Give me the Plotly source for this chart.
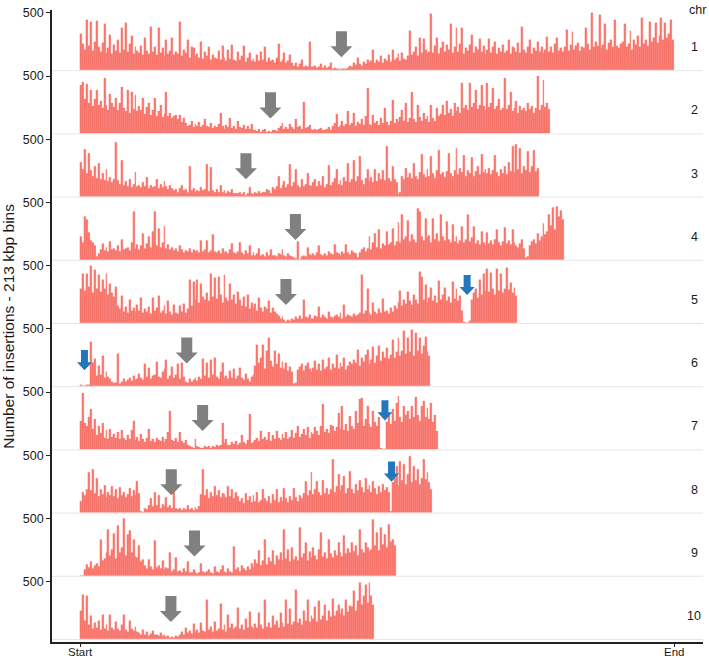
import plotly.graph_objects as go
from plotly.subplots import make_subplots

# ---------------- data (1 Mb resolution) ----------------
BIN_MB = 1.0
CHR_NAMES = ["1", "2", "3", "4", "5", "6", "7", "8", "9", "10"]

CHR1 = [320, 230, 180, 440, 210, 420, 170, 250, 430, 200,
        160, 240, 400, 150, 190, 310, 140, 220, 170, 260,
        150, 370, 180, 410, 160, 230, 300, 140, 200, 170,
        150, 210, 130, 280, 170, 140, 380, 160, 200, 130,
        370, 150, 190, 120, 260, 140, 170, 280, 130, 160,
        140, 420, 120, 180, 150, 260, 110, 200, 190, 120,
        140, 110, 250, 100, 160, 120, 200, 90, 130, 110,
        100, 170, 90, 210, 110, 80, 180, 100, 220, 90,
        80, 160, 90, 120, 210, 70, 110, 150, 80, 100,
        70, 130, 80, 160, 90, 200, 70, 110, 80, 90,
        60, 110, 225, 70, 90, 150, 60, 80, 130, 60,
        40, 60, 30, 50, 90, 30, 40, 25, 250, 30,
        25, 40, 20, 30, 50, 20, 35, 20, 30, 60,
        15, 20, 10, 15, 5, 10, 8, 12, 20, 40,
        30, 60, 45, 110, 50, 40, 70, 55, 90, 60,
        80, 175, 60, 90, 70, 120, 65, 100, 80, 130,
        70, 180, 90, 110, 140, 80, 150, 100, 90, 120,
        340, 130, 160, 200, 120, 280, 150, 270, 180, 140,
        160, 490, 150, 210, 280, 140, 190, 250, 160, 220,
        180, 400, 150, 200, 370, 160, 230, 370, 140, 190,
        170, 220, 310, 150, 200, 180, 270, 160, 210, 140,
        180, 270, 150, 200, 250, 140, 190, 160, 220, 150,
        170, 260, 140, 200, 190, 160, 240, 150, 377, 180,
        150, 200, 260, 140, 190, 170, 250, 160, 200, 150,
        180, 290, 160, 200, 150, 230, 280, 170, 190, 160,
        200, 350, 170, 220, 330, 180, 210, 240, 170, 200,
        190, 370, 230, 180, 500, 200, 250, 210, 485, 190,
        220, 400, 180, 240, 260, 200, 440, 210, 190, 230,
        250, 400, 200, 230, 340, 180, 260, 220, 300, 200,
        455, 230, 260, 210, 420, 250, 280, 410, 240, 300,
        455, 260, 410, 280, 320, 440, 260]

CHR2 = [420, 450, 300, 430, 260, 380, 240, 300, 377, 250,
        280, 220, 480, 250, 200, 340, 260, 230, 310, 200,
        260, 406, 220, 190, 380, 180, 360, 210, 330, 190,
        240, 200, 310, 170, 230, 260, 160, 200, 310, 150,
        190, 250, 140, 170, 360, 150, 180, 130, 150, 160,
        120, 160, 100, 130, 90, 60, 70, 110, 50, 80,
        60, 100, 50, 70, 120, 60, 50, 90, 45, 60,
        50, 80, 175, 60, 40, 70, 55, 130, 45, 60,
        40, 110, 50, 45, 70, 35, 60, 40, 80, 30,
        30, 20, 40, 15, 25, 35, 10, 20, 15, 25,
        30, 20, 45, 60, 90, 40, 55, 35, 80, 50,
        40, 120, 50, 60, 40, 275, 45, 55, 70, 35,
        30, 40, 25, 35, 45, 30, 25, 40, 50, 30,
        60, 90, 170, 50, 70, 110, 60, 80, 190, 70,
        90, 175, 60, 100, 80, 120, 70, 150, 397, 80,
        70, 160, 90, 110, 70, 130, 85, 220, 100, 75,
        110, 290, 90, 120, 100, 140, 200, 110, 260, 100,
        130, 360, 120, 100, 250, 140, 110, 180, 120, 150,
        100, 250, 130, 110, 220, 150, 170, 250, 160, 280,
        180, 210, 150, 260, 190, 230, 180, 435, 220, 250,
        200, 435, 230, 260, 380, 210, 250, 420, 240, 200,
        435, 230, 260, 390, 210, 240, 300, 200, 220, 480,
        210, 250, 360, 190, 220, 280, 180, 240, 200, 220,
        190, 260, 210, 240, 180, 220, 500, 200, 250, 465,
        230, 260, 210]

CHR3 = [300, 240, 410, 200, 380, 230, 180, 260, 160, 290,
        150, 200, 140, 240, 130, 170, 120, 150, 475, 140,
        110, 320, 100, 130, 90, 150, 80, 110, 210, 90,
        100, 80, 120, 90, 170, 70, 100, 80, 90, 150,
        70, 110, 80, 130, 90, 60, 100, 70, 50, 60,
        40, 70, 100, 50, 60, 40, 260, 50, 70, 40,
        55, 45, 80, 50, 60, 280, 45, 255, 50, 40,
        60, 35, 100, 40, 50, 30, 45, 35, 60, 30,
        25, 30, 40, 20, 35, 15, 25, 80, 30, 20,
        35, 25, 45, 30, 40, 35, 60, 50, 30, 80,
        60, 90, 180, 70, 100, 130, 80, 110, 280, 90,
        120, 240, 100, 80, 150, 90, 110, 200, 100, 90,
        120, 150, 90, 130, 100, 180, 80, 110, 270, 100,
        120, 160, 240, 110, 140, 100, 170, 130, 290, 120,
        150, 320, 130, 180, 350, 140, 110, 160, 240, 130,
        170, 120, 240, 130, 200, 150, 230, 140, 440, 160,
        130, 260, 150, 120, 20, 40, 180, 150, 250, 170,
        200, 160, 290, 180, 150, 210, 370, 190, 170, 240,
        180, 350, 200, 160, 230, 400, 190, 210, 170, 220,
        380, 200, 180, 230, 420, 190, 250, 210, 360, 180,
        230, 200, 340, 180, 220, 260, 190, 370, 210, 240,
        200, 250, 190, 230, 360, 210, 180, 240, 200, 260,
        190, 300, 220, 440, 210, 455, 240, 420, 200, 260,
        230, 390, 210, 260, 400, 220, 250]

CHR4 = [200, 150, 380, 350, 240, 170, 150, 120, 30, 50,
        90, 140, 80, 110, 70, 160, 90, 100, 80, 120,
        70, 180, 90, 100, 110, 80, 150, 423, 100, 130,
        90, 120, 230, 100, 140, 200, 110, 250, 423, 120,
        270, 110, 150, 293, 100, 130, 90, 110, 80, 100,
        70, 120, 90, 60, 80, 70, 100, 60, 90, 70,
        80, 60, 170, 70, 90, 170, 60, 80, 220, 70,
        60, 80, 50, 100, 60, 70, 50, 90, 140, 60,
        50, 70, 150, 60, 45, 80, 55, 120, 40, 60,
        40, 50, 100, 35, 45, 30, 60, 40, 90, 35,
        40, 30, 50, 45, 90, 35, 30, 55, 40, 30,
        20, 10, 162, 5, 25, 40, 30, 110, 45, 35,
        50, 40, 60, 120, 45, 35, 55, 40, 70, 50,
        45, 130, 60, 50, 40, 70, 55, 130, 60, 45,
        80, 60, 50, 20, 60, 90, 110, 70, 100, 200,
        90, 150, 230, 110, 260, 100, 140, 120, 250, 130,
        150, 270, 120, 160, 322, 150, 394, 180, 200, 340,
        160, 220, 180, 150, 444, 420, 200, 170, 360, 190,
        210, 150, 360, 180, 230, 160, 390, 200, 170, 330,
        180, 150, 310, 160, 200, 140, 170, 290, 150, 180,
        394, 160, 190, 290, 140, 170, 130, 250, 150, 120,
        240, 140, 170, 130, 180, 260, 150, 120, 160, 280,
        140, 170, 130, 260, 150, 120, 110, 140, 180, 100,
        20, 30, 120, 160, 180, 140, 230, 170, 200, 320,
        220, 250, 394, 300, 452, 260, 460, 380, 430, 350]

CHR5 = [300, 430, 280, 432, 320, 500, 260, 460, 300, 420,
        270, 380, 300, 430, 250, 340, 260, 230, 320, 150,
        120, 240, 100, 140, 90, 200, 110, 130, 95, 160,
        110, 220, 90, 120, 100, 140, 80, 220, 110, 130,
        240, 90, 110, 150, 80, 190, 100, 70, 160, 90,
        80, 150, 100, 170, 90, 120, 375, 150, 360, 200,
        375, 180, 340, 230, 200, 260, 190, 432, 230, 390,
        210, 400, 250, 180, 418, 220, 190, 340, 200, 250,
        170, 270, 200, 150, 230, 140, 250, 120, 180, 130,
        170, 110, 220, 130, 100, 140, 120, 190, 90, 130,
        100, 80, 60, 40, 50, 25, 15, 30, 20, 40,
        30, 50, 35, 60, 40, 200, 50, 45, 70, 35,
        40, 60, 50, 140, 45, 70, 55, 40, 100, 50,
        45, 60, 70, 50, 90, 40, 160, 55, 70, 60,
        50, 80, 65, 70, 90, 420, 80, 110, 300, 90,
        70, 180, 100, 80, 120, 90, 210, 100, 110, 80,
        130, 100, 150, 120, 180, 280, 150, 200, 170, 270,
        190, 160, 250, 200, 170, 446, 400, 200, 330, 180,
        220, 310, 190, 240, 180, 370, 200, 250, 310, 190,
        230, 180, 360, 210, 300, 190, 240, 110, 10, 0,
        5, 20, 200, 260, 300, 220, 380, 250, 430, 280,
        475, 270, 440, 300, 250, 475, 280, 430, 260, 300,
        480, 290, 350, 260, 310, 240]

CHR6 = [10, 5, 0, 8, 15, 383, 200, 240, 90, 180,
        100, 260, 70, 120, 80, 60, 35, 25, 30, 284,
        20, 40, 60, 35, 50, 70, 45, 90, 55, 60,
        110, 70, 50, 190, 80, 160, 60, 90, 100, 210,
        80, 70, 120, 150, 232, 60, 90, 170, 70, 100,
        190, 60, 200, 80, 40, 25, 60, 35, 50, 70,
        45, 80, 60, 240, 90, 200, 70, 230, 100, 250,
        80, 60, 120, 200, 70, 90, 60, 130, 75, 150,
        60, 90, 160, 70, 50, 110, 60, 40, 80, 100,
        180, 363, 200, 250, 363, 150, 310, 420, 220, 170,
        310, 190, 280, 160, 210, 150, 200, 130, 170, 120,
        20, 30, 140, 170, 190, 130, 180, 200, 150, 120,
        160, 220, 140, 190, 130, 230, 150, 170, 250, 140,
        190, 160, 270, 150, 200, 170, 250, 140, 180, 210,
        190, 230, 200, 320, 180, 250, 210, 270, 320, 190,
        230, 340, 200, 260, 350, 220, 300, 250, 330, 240,
        270, 406, 250, 300, 420, 260, 310, 478, 280, 420,
        300, 487, 260, 460, 310, 420, 280, 350, 430, 300,
        260]

CHR7 = [250, 494, 230, 200, 280, 354, 180, 260, 120, 200,
        140, 230, 100, 170, 90, 180, 110, 130, 100, 150,
        90, 170, 100, 80, 120, 90, 170, 247, 80, 110,
        70, 130, 90, 60, 100, 180, 70, 90, 60, 100,
        80, 70, 110, 60, 90, 150, 334, 80, 70, 100,
        60, 150, 70, 50, 80, 40, 30, 20, 15, 90,
        25, 20, 10, 15, 30, 20, 25, 15, 30, 20,
        35, 25, 40, 232, 50, 90, 40, 35, 60, 45,
        70, 40, 50, 120, 60, 45, 80, 305, 50, 60,
        80, 100, 70, 160, 90, 110, 80, 150, 70, 120,
        90, 160, 100, 80, 130, 100, 150, 90, 110, 170,
        100, 140, 200, 110, 130, 180, 120, 190, 100, 150,
        130, 190, 160, 120, 200, 392, 150, 180, 140, 210,
        200, 160, 190, 320, 180, 377, 170, 220, 160, 290,
        200, 180, 330, 230, 435, 450, 200, 260, 380, 220,
        190, 330, 240, 200, 280, 10, 0, 5, 240, 300,
        220, 350, 250, 400, 465, 280, 240, 380, 300, 330,
        260, 380, 280, 458, 300, 250, 380, 420, 280, 360,
        260, 400, 240, 300, 160]

CHR8 = [100, 180, 150, 200, 348, 190, 377, 170, 300, 140,
        200, 160, 240, 130, 180, 150, 230, 140, 200, 120,
        220, 150, 180, 130, 160, 210, 140, 190, 150, 270,
        170, 10, 5, 40, 30, 60, 120, 50, 180, 60,
        150, 40, 70, 50, 130, 45, 60, 35, 334, 40,
        25, 35, 20, 40, 30, 60, 25, 35, 20, 45,
        30, 50, 160, 377, 150, 200, 120, 180, 140, 230,
        150, 190, 130, 170, 160, 130, 230, 140, 200, 120,
        180, 140, 100, 120, 80, 170, 110, 140, 90, 150,
        100, 180, 90, 110, 200, 120, 100, 140, 80, 160,
        110, 200, 90, 130, 100, 210, 120, 90, 140, 110,
        210, 130, 100, 150, 120, 170, 270, 150, 190, 348,
        160, 200, 270, 180, 150, 280, 170, 210, 160, 200,
        464, 180, 230, 330, 190, 240, 320, 170, 210, 360,
        200, 170, 250, 190, 280, 220, 180, 300, 200, 240,
        180, 270, 210, 160, 230, 180, 250, 190, 220, 180,
        10, 260, 300, 400, 240, 450, 280, 420, 250, 330,
        493, 260, 400, 280, 380, 250, 300, 464, 290, 350,
        260, 200]

CHR9 = [0, 0, 50, 100, 70, 120, 60, 90, 110, 80,
        320, 130, 150, 200, 406, 180, 230, 370, 150, 440,
        200, 250, 500, 180, 360, 392, 200, 320, 170, 160,
        260, 120, 140, 90, 60, 140, 80, 50, 305, 70,
        90, 60, 130, 50, 75, 60, 200, 40, 50, 160,
        35, 45, 30, 60, 40, 120, 30, 25, 50, 35,
        20, 30, 110, 40, 25, 35, 50, 30, 20, 80,
        40, 30, 50, 90, 35, 25, 60, 40, 30, 255,
        50, 70, 40, 90, 60, 45, 80, 50, 110, 70,
        140, 110, 220, 90, 130, 320, 100, 160, 120, 220,
        100, 180, 140, 200, 130, 406, 150, 230, 120, 250,
        140, 170, 130, 420, 160, 190, 290, 130, 210, 160,
        250, 180, 140, 230, 380, 170, 200, 150, 320, 190,
        160, 220, 180, 290, 200, 170, 350, 190, 240, 200,
        290, 210, 260, 180, 400, 230, 200, 290, 250, 210,
        230, 487, 260, 380, 220, 420, 270, 360, 250, 450,
        300, 320, 260]

CHR10 = [250, 385, 160, 380, 120, 200, 90, 140, 100, 160,
         80, 210, 90, 120, 70, 210, 100, 80, 150, 90,
         70, 120, 210, 80, 60, 160, 90, 70, 110, 60,
         50, 40, 80, 35, 60, 30, 45, 70, 35, 40,
         30, 50, 25, 35, 20, 30, 15, 20, 10, 25,
         20, 35, 60, 40, 100, 50, 70, 45, 130, 60,
         80, 50, 140, 70, 60, 340, 80, 110, 60, 150,
         70, 90, 310, 80, 120, 60, 210, 100, 130, 90,
         110, 270, 90, 120, 80, 180, 100, 240, 110, 90,
         130, 100, 230, 120, 90, 340, 110, 140, 100, 200,
         120, 160, 100, 230, 140, 110, 340, 130, 260, 120,
         150, 430, 140, 180, 120, 250, 160, 340, 150, 200,
         180, 280, 150, 330, 170, 200, 300, 160, 250, 190,
         350, 200, 250, 300, 220, 260, 200, 340, 240, 290,
         280, 420, 250, 330, 490, 300, 380, 470, 320, 490,
         380, 300]

ALL_CHR = [CHR1, CHR2, CHR3, CHR4, CHR5, CHR6, CHR7, CHR8, CHR9, CHR10]

# centromere (gray) arrows: position (Mb) and tip height (insertions)
CENTROMERE_MB = [135, 98.3, 85.6, 111.2, 106.3, 55, 63.2, 47, 59, 46.8]
CENTROMERE_TIP = [113, 131, 151, 172, 157, 198, 160, 151, 168, 148]
# blue arrows: chromosome, position (Mb), tip height
BLUE_CHR = [5, 6, 7, 8]
BLUE_MB = [200, 2.1, 157.5, 160.9]
BLUE_TIP = [244, 140, 253, 270]

X_TICK_VALS = [0, 307]
X_TICK_TEXT = ["Start", "End"]
Y_TICK_VALS = [500]
Y_TICK_TEXT = ["500"]
Y_TITLE = "Number of insertions - 213 kbp bins"

# ---------------- style ----------------
BAR_COLOR = "#F8766D"
GRAY = "#808080"
BLUE = "#2176bd"
AXIS_COLOR = "#222222"
TEXT_COLOR = "#1a1a1a"
FONT = "Liberation Sans, Arial, sans-serif"
X_RANGE = [-14.7, 322]
Y_RANGE = [-26, 525]

# arrow geometry (data units)
G_HEAD_W, G_STEM_W, G_H, G_HEAD_H = 11.4, 5.7, 227, 96
B_HEAD_W, B_STEM_W, B_H, B_HEAD_H = 7.8, 3.6, 175, 70

N = len(ALL_CHR)
fig = make_subplots(rows=N, cols=1, shared_xaxes=True, vertical_spacing=0)

for i, vals in enumerate(ALL_CHR):
    xs = [(j + 0.5) * BIN_MB for j in range(len(vals))]
    fig.add_trace(go.Bar(x=xs, y=vals, width=BIN_MB,
                         marker=dict(color=BAR_COLOR, line=dict(width=0.25, color=BAR_COLOR)),
                         showlegend=False, hoverinfo="skip"),
                  row=i + 1, col=1)


def arrow_path(xc, tip, head_w, stem_w, h, head_h):
    top = tip + h
    hb = tip + head_h
    return (f"M {xc - stem_w/2},{top} L {xc + stem_w/2},{top} L {xc + stem_w/2},{hb} "
            f"L {xc + head_w/2},{hb} L {xc},{tip} L {xc - head_w/2},{hb} "
            f"L {xc - stem_w/2},{hb} Z")


shapes = []
annotations = []
for i in range(N):
    n = i + 1
    xr = "x" if n == 1 else f"x{n}"
    yr = "y" if n == 1 else f"y{n}"
    shapes.append(dict(type="line", xref="paper", x0=0, x1=1, yref=yr, y0=-4, y1=-4,
                       line=dict(color="#e6e6e6", width=1), layer="below"))
    shapes.append(dict(type="path", xref=xr, yref=yr,
                       path=arrow_path(CENTROMERE_MB[i], CENTROMERE_TIP[i],
                                       G_HEAD_W, G_STEM_W, G_H, G_HEAD_H),
                       fillcolor=GRAY, line=dict(width=0)))
    annotations.append(dict(xref=xr, yref=yr, x=317.5, y=200, text=CHR_NAMES[i],
                            showarrow=False, xanchor="center", yanchor="middle",
                            font=dict(size=12.5, color=TEXT_COLOR, family=FONT)))

for c, xm, tip in zip(BLUE_CHR, BLUE_MB, BLUE_TIP):
    xr = "x" if c == 1 else f"x{c}"
    yr = "y" if c == 1 else f"y{c}"
    shapes.append(dict(type="path", xref=xr, yref=yr,
                       path=arrow_path(xm, tip, B_HEAD_W, B_STEM_W, B_H, B_HEAD_H),
                       fillcolor=BLUE, line=dict(width=0)))

# bottom tick labels (Start / End), placed just under the axis ticks, kept inside the page
xr_bottom = f"x{N}"
for xv, tx in zip(X_TICK_VALS, X_TICK_TEXT):
    annotations.append(dict(xref=xr_bottom, yref="paper", x=xv, y=0, yshift=-16.5,
                            text=tx, showarrow=False, xanchor="center", yanchor="bottom",
                            borderpad=0,
                            font=dict(size=11.5, color=TEXT_COLOR, family=FONT)))

annotations.append(dict(xref="paper", yref="paper", x=0.992, y=1.0, text="chr",
                        showarrow=False, xanchor="center", yanchor="middle",
                        font=dict(size=12.5, color=TEXT_COLOR, family=FONT)))
annotations.append(dict(xref="paper", yref="paper", x=-0.068, y=0.5, text=Y_TITLE,
                        textangle=-90, showarrow=False, xanchor="center", yanchor="middle",
                        font=dict(size=15.5, color=TEXT_COLOR, family=FONT)))

fig.update_layout(width=709, height=658, bargap=0,
                  margin=dict(l=52, r=6, t=10, b=16, autoexpand=False),
                  plot_bgcolor="white", paper_bgcolor="white",
                  font=dict(family=FONT, size=12.5, color=TEXT_COLOR),
                  shapes=shapes, annotations=annotations)

fig.update_xaxes(range=X_RANGE, showgrid=False, zeroline=False, automargin=False,
                 showticklabels=False, ticks="", showline=False)
fig.update_xaxes(row=N, col=1, showticklabels=False, tickvals=X_TICK_VALS,
                 ticks="outside", ticklen=3, tickwidth=1.2,
                 tickcolor=AXIS_COLOR, showline=True, linecolor=AXIS_COLOR, linewidth=1.6)
fig.update_yaxes(range=Y_RANGE, tickvals=Y_TICK_VALS, ticktext=Y_TICK_TEXT, automargin=False,
                 ticks="outside", ticklen=4, tickwidth=1.2, tickcolor=AXIS_COLOR,
                 showline=True, linecolor=AXIS_COLOR, linewidth=1.6,
                 showgrid=False, zeroline=False, fixedrange=True,
                 tickfont=dict(size=12.5, color=TEXT_COLOR))

fig.write_html("out.html", config={"displayModeBar": False},
               post_script="document.body.style.margin='0';document.body.style.overflow='hidden';")
